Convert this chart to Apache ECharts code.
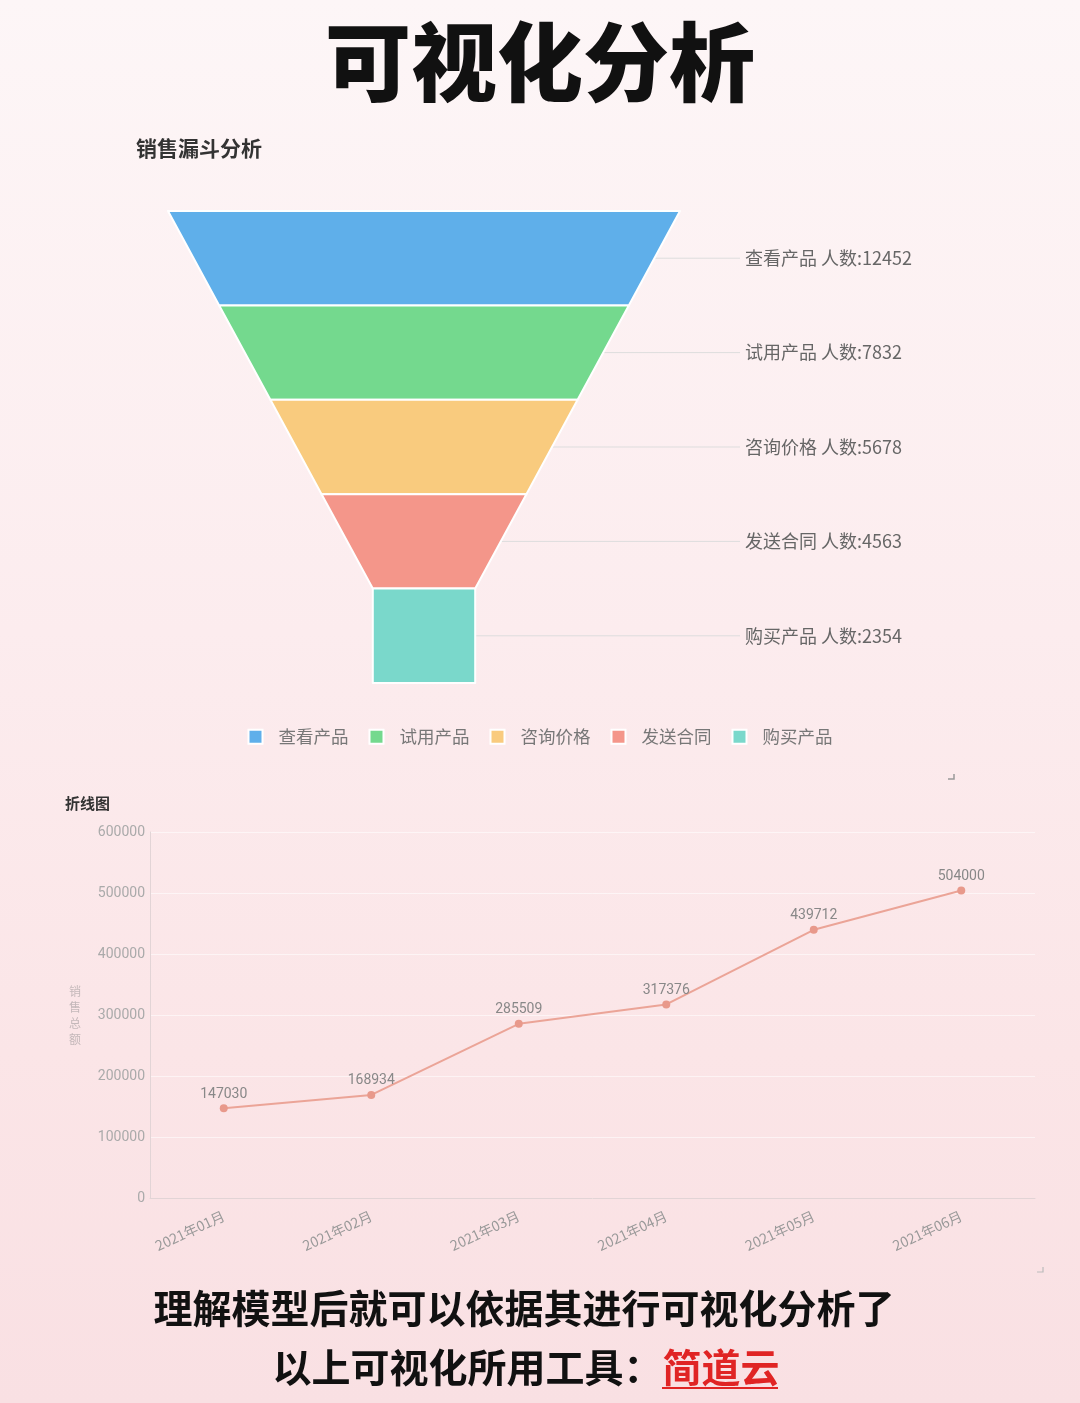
<!DOCTYPE html>
<html>
<head>
<meta charset="utf-8">
<script src="https://cdn.jsdelivr.net/npm/echarts@6/dist/echarts.min.js"></script>
<style>
html,body{margin:0;padding:0;width:1080px;height:1403px;overflow:hidden;
background:linear-gradient(180deg,#fdf6f7 0%,#fcecee 45%,#fbe5e7 75%,#f9e0e3 100%);}
#c{width:1080px;height:1403px;}
</style>
</head>
<body>
<div id="c"></div>
<script>
// ---- data ----
const funnelNames = ['查看产品', '试用产品', '咨询价格', '发送合同', '购买产品'];
const funnelCounts = [12452, 7832, 5678, 4563, 2354];
const funnelSizes = [100, 80, 60, 40, 20]; // displayed width steps (%)
const funnelColors = ['#5fafea', '#74d98e', '#f9cb7e', '#f4968a', '#7ad8cb'];

const months = ['2021年01月', '2021年02月', '2021年03月', '2021年04月', '2021年05月', '2021年06月'];
const sales = [147030, 168934, 285509, 317376, 439712, 504000];
const yTicks = [0, 100000, 200000, 300000, 400000, 500000, 600000];

// ---- layout constants ----
const FL = 168, FT = 211, FW = 512, FH = 472;
const FCX = FL + FW / 2;
const LABEL_X = 745;
const minSizeVal = funnelSizes[funnelSizes.length - 1];

const funnelData = funnelNames.map((n, i) => {
  const fTop = funnelSizes[i] / 100;
  const fBot = (i < funnelSizes.length - 1 ? funnelSizes[i + 1] : funnelSizes[i]) / 100;
  const xMid = FCX + FW * (fTop + fBot) / 4;
  return {
    name: n,
    value: funnelSizes[i],
    itemStyle: { color: funnelColors[i] },
    labelLine: { length: LABEL_X - 5 - xMid }
  };
});

const chart = echarts.init(document.getElementById('c'), null, { renderer: 'canvas' });
const cjk = '"Noto Sans CJK SC", "Noto Sans", sans-serif';
const num = 'Roboto, "Noto Sans", sans-serif';

chart.setOption({
  backgroundColor: 'transparent',
  textStyle: { fontFamily: cjk },
  title: [
    { text: '销售漏斗分析', left: 131, top: 133,
      textStyle: { fontSize: 21, fontWeight: 'bold', color: '#333', fontFamily: cjk } },
    { text: '折线图', left: 60, top: 791,
      textStyle: { fontSize: 15, fontWeight: 'bold', color: '#333', fontFamily: cjk } }
  ],
  legend: {
    data: funnelNames,
    left: 'center',
    top: 723,
    icon: 'rect',
    itemWidth: 14,
    itemHeight: 14,
    itemGap: 20,
    textStyle: { fontSize: 17.5, color: '#777', padding: [0, 0, 0, 11], fontFamily: cjk }
  },
  grid: { left: 150, right: 45, top: 832, height: 366, containLabel: false },
  xAxis: {
    type: 'category',
    data: months,
    boundaryGap: true,
    axisLine: { lineStyle: { color: '#e2d4d6' } },
    axisTick: { show: false },
    axisLabel: { rotate: 25, fontSize: 14, color: '#999', margin: 17, fontFamily: cjk }
  },
  yAxis: {
    type: 'value',
    min: yTicks[0],
    max: yTicks[yTicks.length - 1],
    interval: yTicks[1] - yTicks[0],
    name: '销\n售\n总\n额',
    nameLocation: 'middle',
    nameRotate: 0,
    nameGap: 69,
    nameTextStyle: { fontSize: 12, color: '#c4b8ba', lineHeight: 16 },
    axisLine: { show: true, lineStyle: { color: '#e2d4d6' } },
    axisTick: { show: false },
    splitLine: { show: true, lineStyle: { color: 'rgba(255,255,255,0.55)' } },
    axisLabel: { fontSize: 14, color: '#aaa', margin: 5, fontFamily: num,
      formatter: v => String(v) }
  },
  series: [
    {
      type: 'funnel',
      left: FL, top: FT, width: FW, height: FH,
      min: minSizeVal, max: 100,
      minSize: minSizeVal + '%', maxSize: '100%',
      sort: 'descending',
      gap: 0,
      itemStyle: { borderColor: '#fff', borderWidth: 2 },
      label: {
        show: true,
        position: 'right',
        color: '#666',
        fontSize: 18,
        fontFamily: cjk,
        formatter: p => p.name + ' 人数:' + funnelCounts[p.dataIndex]
      },
      labelLine: { show: true, lineStyle: { color: '#ddd', width: 1 } },
      emphasis: { disabled: true },
      data: funnelData
    },
    {
      type: 'line',
      data: sales,
      symbol: 'circle',
      symbolSize: 8,
      itemStyle: { color: '#e8998b' },
      lineStyle: { color: '#eba497', width: 2 },
      label: { show: true, position: 'top', distance: 3, fontSize: 14, color: '#888',
        fontFamily: num }
    }
  ],
  graphic: [
    { type: 'text', left: 'center', top: 19,
      style: { text: '可视化分析', fontSize: 86, fontWeight: 900, fill: '#111', fontFamily: cjk } },
    { type: 'text', x: 524, y: 1308,
      style: { text: '理解模型后就可以依据其进行可视化分析了', fontSize: 39, fontWeight: 'bold',
        fill: '#111', fontFamily: cjk, align: 'center', verticalAlign: 'middle' } },
    { type: 'text', x: 526, y: 1367,
      style: { text: '{a|以上可视化所用工具：}{b|简道云}', align: 'center', verticalAlign: 'middle',
        rich: {
          a: { fontSize: 39, fontWeight: 'bold', fill: '#111', color: '#111', fontFamily: cjk },
          b: { fontSize: 39, fontWeight: 'bold', fill: '#e02424', color: '#e02424', fontFamily: cjk }
        } } },
    { type: 'line', shape: { x1: 662, y1: 1388, x2: 778, y2: 1388 },
      style: { stroke: '#e02424', lineWidth: 2 } },
    { type: 'polyline', shape: { points: [[948, 779], [954, 779], [954, 774]] },
      style: { stroke: '#999', lineWidth: 1.5, fill: null } },
    { type: 'polyline', shape: { points: [[1037, 1272], [1043, 1272], [1043, 1267]] },
      style: { stroke: '#bbb', lineWidth: 1.2, fill: null } }
  ]
});
</script>
</body>
</html>
